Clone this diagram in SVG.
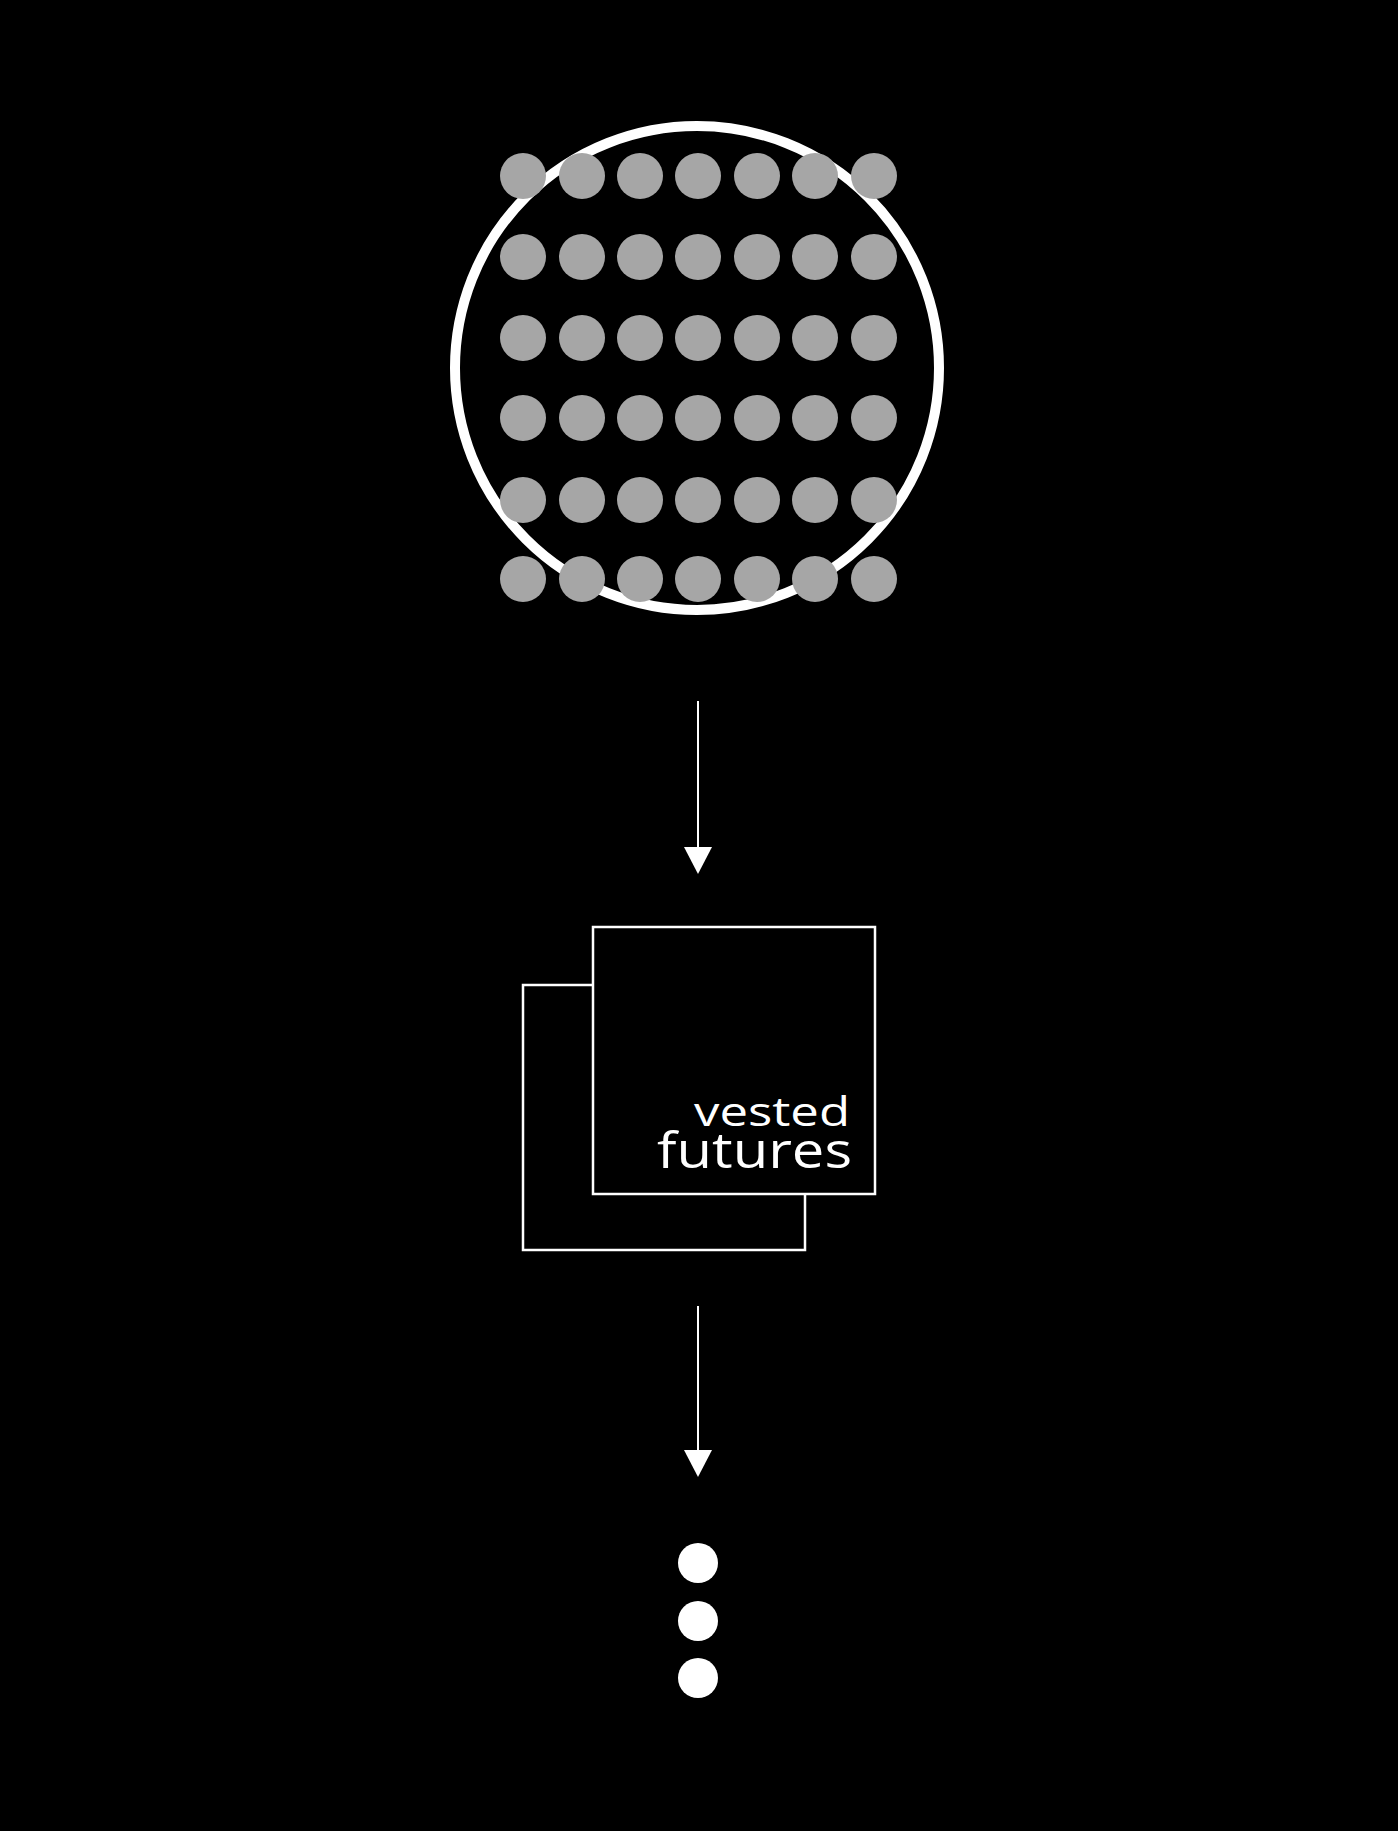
<svg xmlns="http://www.w3.org/2000/svg" width="1398" height="1831" viewBox="0 0 1398 1831">
<defs>
<style>
.g{fill:#a6a6a6}
.w{fill:#fff}
.ln{stroke:#fff;stroke-width:2;fill:none}
.box{stroke:#fff;stroke-width:2.5;fill:#000}
.t{fill:#fff;font-family:"Open Sans","DejaVu Sans",sans-serif;text-anchor:end}
</style>
</defs>
<rect width="1398" height="1831" fill="#000"/>
<g id="pool">
<circle cx="697" cy="368" r="242" fill="none" stroke="#fff" stroke-width="10"/>
<g class="g">
<circle cx="523" cy="176" r="23"/><circle cx="582" cy="176" r="23"/><circle cx="640" cy="176" r="23"/><circle cx="698" cy="176" r="23"/><circle cx="757" cy="176" r="23"/><circle cx="815" cy="176" r="23"/><circle cx="874" cy="176" r="23"/>
<circle cx="523" cy="257" r="23"/><circle cx="582" cy="257" r="23"/><circle cx="640" cy="257" r="23"/><circle cx="698" cy="257" r="23"/><circle cx="757" cy="257" r="23"/><circle cx="815" cy="257" r="23"/><circle cx="874" cy="257" r="23"/>
<circle cx="523" cy="338" r="23"/><circle cx="582" cy="338" r="23"/><circle cx="640" cy="338" r="23"/><circle cx="698" cy="338" r="23"/><circle cx="757" cy="338" r="23"/><circle cx="815" cy="338" r="23"/><circle cx="874" cy="338" r="23"/>
<circle cx="523" cy="418" r="23"/><circle cx="582" cy="418" r="23"/><circle cx="640" cy="418" r="23"/><circle cx="698" cy="418" r="23"/><circle cx="757" cy="418" r="23"/><circle cx="815" cy="418" r="23"/><circle cx="874" cy="418" r="23"/>
<circle cx="523" cy="500" r="23"/><circle cx="582" cy="500" r="23"/><circle cx="640" cy="500" r="23"/><circle cx="698" cy="500" r="23"/><circle cx="757" cy="500" r="23"/><circle cx="815" cy="500" r="23"/><circle cx="874" cy="500" r="23"/>
<circle cx="523" cy="579" r="23"/><circle cx="582" cy="579" r="23"/><circle cx="640" cy="579" r="23"/><circle cx="698" cy="579" r="23"/><circle cx="757" cy="579" r="23"/><circle cx="815" cy="579" r="23"/><circle cx="874" cy="579" r="23"/>
</g>
</g>
<g id="connectors">
<line class="ln" x1="698" y1="701" x2="698" y2="847"/>
<path d="M684,847 L712,847 L698,874 Z" class="w"/>
<line class="ln" x1="698" y1="1306" x2="698" y2="1450"/>
<path d="M684,1450 L712,1450 L698,1477 Z" class="w"/>
</g>
<g id="vested-futures">
<rect class="box" x="523" y="985" width="282" height="265"/>
<rect class="box" x="593" y="927" width="282" height="267"/>
<text class="t" x="850" y="1126" font-size="40" textLength="156" lengthAdjust="spacingAndGlyphs">vested</text>
<text class="t" x="852" y="1168" font-size="49" textLength="195" lengthAdjust="spacingAndGlyphs">futures</text>
</g>
<g id="more" class="w">
<circle cx="698" cy="1563" r="20"/>
<circle cx="698" cy="1621" r="20"/>
<circle cx="698" cy="1678" r="20"/>
</g>
</svg>
